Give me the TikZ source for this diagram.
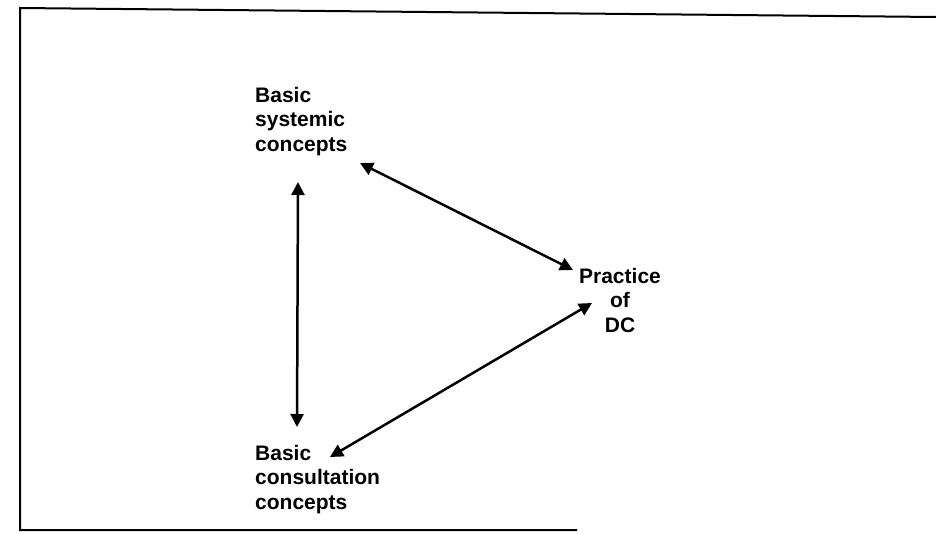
\documentclass[tikz,border=0pt]{standalone}
\usepackage{fontspec}
\setmainfont{Liberation Sans}
\usetikzlibrary{arrows.meta,calc}
\tikzset{
  concept/.style={align=left, inner sep=0pt, anchor=north west, font=\fontsize{21}{24.5}\selectfont\bfseries},
  practice/.style={align=center, inner sep=0pt, anchor=north, font=\fontsize{21}{24.5}\selectfont\bfseries},
  link/.style={{Triangle[length=13pt,width=13pt]}-{Triangle[length=13pt,width=13pt]}, line width=2.5pt},
  frame/.style={line width=2pt}
}

\begin{document}
\begin{tikzpicture}[x=1pt,y=-1pt]
  \useasboundingbox (0,0) rectangle (936,533);
  \draw[frame] (936,17) -- (20,8) -- (20,530) -- (577,530);

  \node[concept] (systemic) at (255,87) {Basic\\systemic\\concepts};
  \node[concept] (consult) at (255,445) {Basic\\consultation\\concepts};
  \node[practice] (dc) at (620,268) {Practice\\of\\DC};

  \draw[link] ($(systemic.north west)+(43,95)$) -- ($(consult.north west)+(42,-18)$);
  \draw[link] ($(systemic.north west)+(105,76)$) -- ($(dc.north)+(-47,2)$);
  \draw[link] ($(consult.north west)+(75,12)$) -- ($(dc.north)+(-28,35)$);
\end{tikzpicture}
\end{document}
